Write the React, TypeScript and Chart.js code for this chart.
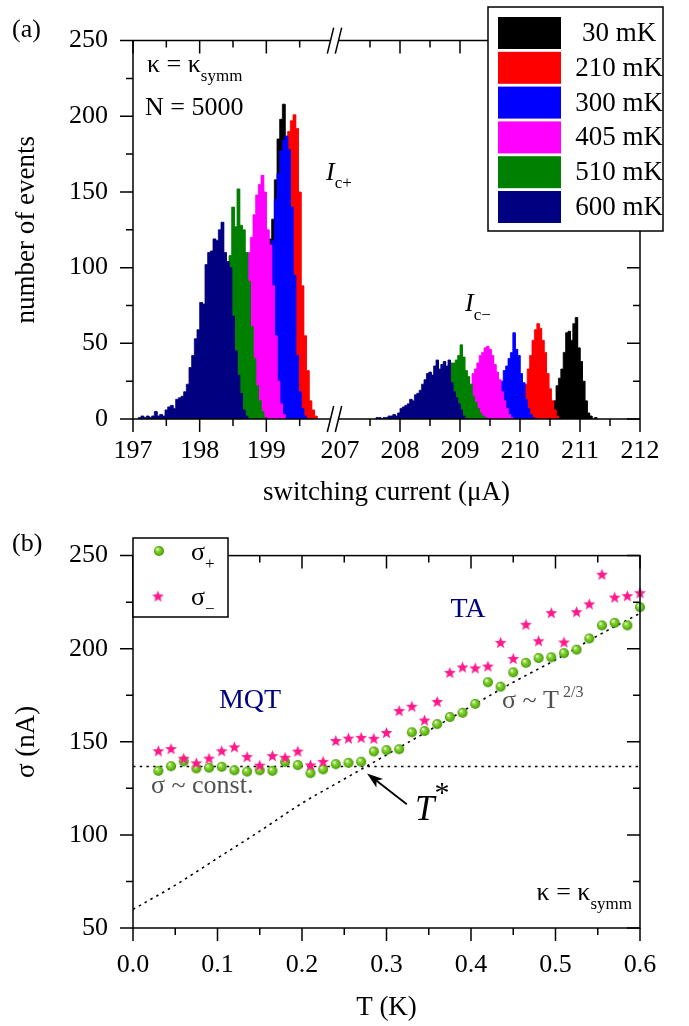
import React, { useEffect, useRef } from 'react';
import { Chart, registerables } from 'chart.js';

Chart.register(...registerables);

const SERIF = '"Liberation Serif", "Times New Roman", Times, serif';
const fnt = (size: number, style = 'normal') => `${style} ${size}px ${SERIF}`;

/* ---------------- (a) switching-current histograms ---------------- */
const tempLabels = ['30 mK', '210 mK', '300 mK', '405 mK', '510 mK', '600 mK'];
const tempColors = ['#000000', '#ff0000', '#0000ff', '#ff00ff', '#008000', '#000080'];
const binWidth = 0.04; // μA

// I_c+ branch: left edge of the first bin (μA) and event counts per bin
const plusStart = [198.88, 199.0, 198.92, 198.48, 198.16, 197.08];
const plus30mK = [5, 20, 45, 80, 119, 132, 158, 185, 198, 208, 180, 140, 90, 45, 15, 3];
const plus210mK = [5, 15, 35, 60, 95, 130, 160, 178, 190, 197, 201, 192, 150, 88, 55, 32, 12, 6, 2];
const plus300mK = [8, 25, 55, 90, 118, 145, 162, 177, 184, 187, 178, 140, 95, 42, 18, 7, 2];
const plus405mK = [15, 30, 50, 70, 88, 100, 110, 120, 135, 148, 155, 161, 150, 125, 115, 88, 55, 25, 10, 3];
const plus510mK = [20, 35, 50, 65, 80, 92, 100, 108, 140, 127, 152, 128, 125, 110, 91, 61, 40, 22, 12, 5, 1];
const plus600mK = [1, 2, 1, 2, 1, 2, 5, 2, 3, 2, 6, 8, 9, 7, 13, 14, 15, 18, 23, 34, 42, 53, 59, 77, 76, 102, 110, 111, 119, 118, 125, 130, 110, 104, 100, 68, 45, 29, 17, 6, 2];

// I_c- branch
const minusStart = [210.52, 209.96, 209.52, 209.08, 208.68, 207.6];
const minus30mK = [4, 12, 22, 27, 33, 44, 57, 58, 52, 63, 67, 47, 38, 25, 12, 4, 2, 0, 1];
const minus210mK = [3, 8, 15, 23, 33, 42, 52, 59, 63, 60, 52, 44, 30, 20, 12, 6, 2];
const minus300mK = [2, 5, 10, 18, 25, 32, 35, 40, 44, 57, 46, 42, 30, 24, 13, 7, 3, 1];
const minus405mK = [5, 10, 20, 30, 33, 37, 42, 44, 47, 48, 46, 42, 36, 31, 26, 18, 12, 7, 3, 1];
const minus510mK = [5, 10, 18, 28, 37, 37, 39, 42, 49, 41, 32, 28, 23, 15, 11, 7, 4, 2, 1];
const minus600mK = [1, 1, 0, 1, 1, 2, 2, 3, 2, 4, 7, 8, 9, 10, 13, 12, 16, 17, 19, 23, 26, 30, 31, 29, 35, 39, 33, 36, 38, 35, 39, 24, 18, 14, 10, 6, 2];

const plusCounts = [plus30mK, plus210mK, plus300mK, plus405mK, plus510mK, plus600mK];
const minusCounts = [minus30mK, minus210mK, minus300mK, minus405mK, minus510mK, minus600mK];

const currentMajor = [197, 198, 199, 207, 208, 209, 210, 211, 212];
const currentMinor = [197.5, 198.5, 199.5, 207.5, 208.5, 209.5, 210.5, 211.5];
const countMajor = [0, 50, 100, 150, 200, 250];
const countMinor = [25, 75, 125, 175, 225];

// broken current axis: 197–200 μA and 207–212 μA share one linear scale
const LOW_SPAN = 200; // axis units for the 3 μA below the break
const GAP = 7; // axis units of the break itself
const HIGH_SPAN = 300; // axis units for the 5 μA above the break
function brokenAxis(i: number): number {
  return i < 203.5 ? ((i - 197) * LOW_SPAN) / 3 : LOW_SPAN + GAP + ((i - 207) * HIGH_SPAN) / 5;
}
const AXIS_MAX = LOW_SPAN + GAP + HIGH_SPAN;

function staircase(start: number, counts: number[]) {
  const pts = [{ x: brokenAxis(start), y: 0 }];
  counts.forEach((c, k) => {
    pts.push({ x: brokenAxis(start + k * binWidth), y: c });
    pts.push({ x: brokenAxis(start + (k + 1) * binWidth), y: c });
  });
  pts.push({ x: brokenAxis(start + counts.length * binWidth), y: 0 });
  return pts;
}

/* ---------------- (b) width of the switching distribution ---------------- */
const tempK = [
  0.03, 0.045, 0.06, 0.075, 0.09, 0.105, 0.12, 0.135, 0.15, 0.165,
  0.18, 0.195, 0.21, 0.225, 0.24, 0.255, 0.27, 0.285, 0.3, 0.315,
  0.33, 0.345, 0.36, 0.375, 0.39, 0.405, 0.42, 0.435, 0.45, 0.465,
  0.48, 0.495, 0.51, 0.525, 0.54, 0.555, 0.57, 0.585, 0.6,
];
const sigmaPlus = [
  134.4, 136.9, 139.5, 135.7, 136.1, 136.6, 134.7, 134.0, 134.7, 134.4,
  139.2, 137.5, 133.2, 135.2, 138.0, 138.7, 139.3, 144.8, 145.5, 146.0,
  155.1, 155.8, 159.5, 163.3, 165.6, 170.4, 182.0, 179.6, 187.3, 192.4,
  195.0, 195.4, 197.6, 199.5, 205.5, 212.5, 213.9, 212.5, 222.3,
];
const sigmaMinus = [
  145.2, 146.4, 141.2, 138.7, 141.2, 145.2, 147.3, 142.1, 137.5, 142.6,
  141.7, 145.0, 137.6, 139.5, 150.7, 152.0, 152.4, 151.9, 155.0, 166.8,
  169.1, 161.7, 171.7, 187.3, 190.2, 189.7, 190.7, 203.4, 194.8, 213.1,
  204.3, 219.4, 203.6, 219.9, 224.1, 240.0, 227.7, 228.5, 230.1,
];
const sigmaConst = 136.7;
const fitT = [0, 0.05, 0.1, 0.15, 0.2, 0.25, 0.3, 0.35, 0.4, 0.45, 0.5, 0.55, 0.6];
const fitSigma = [60, 73, 87.5, 102, 117, 130, 143, 156, 169, 182, 194, 207, 219];

const tMajor = [0, 0.1, 0.2, 0.3, 0.4, 0.5, 0.6];
const tMinor = [0.05, 0.15, 0.25, 0.35, 0.45, 0.55];
const sigmaMajor = [50, 100, 150, 200, 250];
const sigmaMinor = [75, 125, 175, 225];

/* ---------------- drawing helpers ---------------- */
const MAJOR_LEN = 13;
const MINOR_LEN = 7;

function drawTicks(ctx: CanvasRenderingContext2D, chart: any, xMajor: number[], xMinor: number[], yMajor: number[], yMinor: number[]) {
  const { chartArea: a, scales } = chart;
  const x = scales.x;
  const y = scales.y;
  ctx.beginPath();
  const xs: [number[], number][] = [[xMajor, MAJOR_LEN], [xMinor, MINOR_LEN]];
  for (const [vals, len] of xs) {
    for (const v of vals) {
      const px = x.getPixelForValue(v);
      ctx.moveTo(px, a.bottom);
      ctx.lineTo(px, a.bottom + len);
      ctx.moveTo(px, a.top);
      ctx.lineTo(px, a.top + len);
    }
  }
  const ys: [number[], number][] = [[yMajor, MAJOR_LEN], [yMinor, MINOR_LEN]];
  for (const [vals, len] of ys) {
    for (const v of vals) {
      const py = y.getPixelForValue(v);
      ctx.moveTo(a.left - len, py);
      ctx.lineTo(a.left, py);
      ctx.moveTo(a.right - len, py);
      ctx.lineTo(a.right, py);
    }
  }
  ctx.stroke();
}

function rich(ctx: CanvasRenderingContext2D, x: number, y: number, parts: [string, string, number][]) {
  let cx = x;
  for (const [t, font, dy] of parts) {
    ctx.font = font;
    ctx.fillText(t, cx, y + dy);
    cx += ctx.measureText(t).width;
  }
  return cx;
}

function legendBox(ctx: CanvasRenderingContext2D, x: number, y: number, w: number, h: number) {
  ctx.fillStyle = '#fff';
  ctx.fillRect(x, y, w, h);
  ctx.strokeStyle = '#000';
  ctx.lineWidth = 1.5;
  ctx.strokeRect(x, y, w, h);
}

function makeSphere(r: number) {
  const c = document.createElement('canvas');
  const size = Math.ceil(2 * r + 2);
  c.width = size;
  c.height = size;
  const g = c.getContext('2d')!;
  const cx = size / 2;
  const grad = g.createRadialGradient(cx - r * 0.35, cx - r * 0.4, r * 0.08, cx, cx, r);
  grad.addColorStop(0, '#f2ffe4');
  grad.addColorStop(0.3, '#8fd83a');
  grad.addColorStop(0.75, '#5cb612');
  grad.addColorStop(1, '#3f8a05');
  g.fillStyle = grad;
  g.beginPath();
  g.arc(cx, cx, r, 0, Math.PI * 2);
  g.fill();
  return c;
}

function makeStar(rOut: number, rIn: number, color: string) {
  const c = document.createElement('canvas');
  const size = Math.ceil(2 * rOut + 2);
  c.width = size;
  c.height = size;
  const g = c.getContext('2d')!;
  const cx = size / 2;
  const cy = size / 2 + rOut * 0.1;
  g.beginPath();
  for (let k = 0; k < 10; k++) {
    const r = k % 2 === 0 ? rOut : rIn;
    const ang = -Math.PI / 2 + (k * Math.PI) / 5;
    const px = cx + r * Math.cos(ang);
    const py = cy + r * Math.sin(ang);
    if (k === 0) g.moveTo(px, py);
    else g.lineTo(px, py);
  }
  g.closePath();
  g.fillStyle = color;
  g.fill();
  return c;
}

const tickFont = { family: SERIF, size: 26 };
const titleFont = { family: SERIF, size: 27 };

/* ---------------- panel (a) ---------------- */
function configA() {
  const datasets: any[] = [];
  tempLabels.forEach((lab, k) => {
    const order = tempLabels.length - k; // warmer curves are drawn over colder ones
    const branches: [number, number[]][] = [
      [plusStart[k], plusCounts[k]],
      [minusStart[k], minusCounts[k]],
    ];
    for (const [s, c] of branches) {
      datasets.push({
        label: lab,
        data: staircase(s, c),
        borderColor: tempColors[k],
        backgroundColor: tempColors[k],
        borderWidth: 0.8,
        fill: 'origin',
        pointRadius: 0,
        tension: 0,
        order,
      });
    }
  });

  const panelA = {
    id: 'panelA',
    afterDraw(chart: any) {
      const { ctx, chartArea: a, scales } = chart;
      const x = scales.x;
      ctx.save();
      ctx.strokeStyle = '#000';
      ctx.fillStyle = '#000';
      ctx.lineWidth = 1.5;
      ctx.lineCap = 'butt';

      // frame with a break in the current axis
      const breakL = x.getPixelForValue(brokenAxis(200)) - 2.5;
      const breakR = x.getPixelForValue(brokenAxis(207)) - 1.5;
      ctx.beginPath();
      ctx.moveTo(a.left, a.top);
      ctx.lineTo(a.left, a.bottom);
      ctx.moveTo(a.right, a.top);
      ctx.lineTo(a.right, a.bottom);
      for (const yy of [a.top, a.bottom]) {
        ctx.moveTo(a.left, yy);
        ctx.lineTo(breakL, yy);
        ctx.moveTo(breakR, yy);
        ctx.lineTo(a.right, yy);
        for (const bx of [breakL, breakR]) {
          ctx.moveTo(bx - 3.2, yy + 13);
          ctx.lineTo(bx + 3.2, yy - 13);
        }
      }
      ctx.stroke();

      const ticked = currentMajor.filter((v) => v !== 207).map(brokenAxis);
      drawTicks(ctx, chart, ticked, currentMinor.map(brokenAxis), countMajor, countMinor);

      // legend
      legendBox(ctx, 488, 7, 175, 224);
      tempLabels.forEach((lab, k) => {
        const top = 17 + k * 34.8;
        ctx.fillStyle = tempColors[k];
        ctx.fillRect(498, top, 63, 32);
        ctx.fillStyle = '#000';
        ctx.font = fnt(27);
        ctx.textAlign = 'center';
        ctx.textBaseline = 'middle';
        ctx.fillText(lab, 619, top + 17);
      });

      // annotations
      ctx.textAlign = 'left';
      ctx.textBaseline = 'alphabetic';
      ctx.fillStyle = '#000';
      rich(ctx, 12, 37, [['(a)', fnt(26), 0]]);
      rich(ctx, 147, 72, [['κ = κ', fnt(26), 0], ['symm', fnt(17), 9]]);
      rich(ctx, 145, 115, [['N = 5000', fnt(26), 0]]);
      rich(ctx, 326, 180, [['I', fnt(26, 'italic'), 0], ['c+', fnt(17), 8]]);
      rich(ctx, 465, 311, [['I', fnt(26, 'italic'), 0], ['c−', fnt(17), 9]]);
      ctx.restore();
    },
  };

  return {
    type: 'line',
    data: { datasets },
    options: {
      animation: false,
      responsive: false,
      events: [],
      layout: { padding: { top: 29, right: 49, bottom: 0, left: 0 } },
      plugins: { legend: { display: false }, tooltip: { enabled: false } },
      scales: {
        x: {
          type: 'linear',
          min: 0,
          max: AXIS_MAX,
          afterBuildTicks: (s: any) => {
            s.ticks = currentMajor.map((v) => ({ value: brokenAxis(v) }));
          },
          afterFit: (s: any) => {
            s.height = 96;
          },
          grid: { display: false, drawTicks: false },
          border: { display: false },
          ticks: {
            autoSkip: false,
            maxRotation: 0,
            padding: 17,
            color: '#000',
            font: tickFont,
            callback: (_v: any, i: number) => String(currentMajor[i]),
          },
          title: {
            display: true,
            text: 'switching current (μA)',
            color: '#000',
            font: titleFont,
            padding: { top: 0, bottom: 6 },
          },
        },
        y: {
          type: 'linear',
          min: 0,
          max: 250,
          afterFit: (s: any) => {
            s.width = 133;
          },
          grid: { display: false, drawTicks: false },
          border: { display: false },
          ticks: { stepSize: 50, padding: 25, color: '#000', font: tickFont },
          title: {
            display: true,
            text: 'number of events',
            color: '#000',
            font: titleFont,
            padding: { top: 11, bottom: 0 },
          },
        },
      },
    },
    plugins: [panelA],
  };
}

/* ---------------- panel (b) ---------------- */
function configB() {
  const sphere = makeSphere(5);
  const star = makeStar(6.2, 2.7, '#ff1a8c');

  const datasets: any[] = [
    {
      label: 'σ-',
      data: tempK.map((t, i) => ({ x: t, y: sigmaMinus[i] })),
      showLine: false,
      pointStyle: star,
      pointRadius: 5,
      clip: false,
      order: 0,
    },
    {
      label: 'σ+',
      data: tempK.map((t, i) => ({ x: t, y: sigmaPlus[i] })),
      showLine: false,
      pointStyle: sphere,
      pointRadius: 5,
      clip: false,
      order: 1,
    },
    {
      label: 'const',
      data: [
        { x: 0, y: sigmaConst },
        { x: 0.6, y: sigmaConst },
      ],
      borderColor: '#000',
      borderWidth: 1.6,
      borderDash: [2.5, 4.2],
      pointRadius: 0,
      fill: false,
      order: 2,
    },
    {
      label: 'fit',
      data: fitT.map((t, i) => ({ x: t, y: fitSigma[i] })),
      borderColor: '#000',
      borderWidth: 1.6,
      borderDash: [2.5, 4.2],
      pointRadius: 0,
      fill: false,
      cubicInterpolationMode: 'monotone',
      order: 3,
    },
  ];

  const panelB = {
    id: 'panelB',
    afterDraw(chart: any) {
      const { ctx, chartArea: a, scales } = chart;
      const x = scales.x;
      const y = scales.y;
      ctx.save();
      ctx.strokeStyle = '#000';
      ctx.fillStyle = '#000';
      ctx.lineWidth = 1.5;
      ctx.strokeRect(a.left, a.top, a.right - a.left, a.bottom - a.top);
      drawTicks(ctx, chart, tMajor, tMinor, sigmaMajor, sigmaMinor);

      // legend
      legendBox(ctx, 133, 23, 95, 79);
      ctx.drawImage(sphere, 159 - sphere.width / 2, 36 - sphere.height / 2);
      ctx.drawImage(star, 158 - star.width / 2, 81 - star.height / 2);
      ctx.textAlign = 'left';
      ctx.textBaseline = 'alphabetic';
      ctx.fillStyle = '#000';
      rich(ctx, 191, 45, [['σ', fnt(26), 0], ['+', fnt(17), 9]]);
      rich(ctx, 191, 90, [['σ', fnt(26), 0], ['−', fnt(17), 9]]);

      rich(ctx, 12, 36, [['(b)', fnt(26), 0]]);

      // regime labels
      ctx.fillStyle = '#000080';
      ctx.font = fnt(28);
      ctx.textAlign = 'center';
      ctx.fillText('MQT', 250, 193);
      ctx.fillText('TA', 468, 102);
      ctx.textAlign = 'left';
      ctx.fillStyle = '#505050';
      rich(ctx, 151, 278, [['σ ~ const.', fnt(26), 0]]);
      rich(ctx, 502, 193, [['σ ~ T', fnt(26), 0], [' 2/3', fnt(16), -11]]);

      // crossover temperature
      ctx.fillStyle = '#000';
      rich(ctx, 415, 305, [['T', fnt(35, 'italic'), 0], ['*', fnt(30), -18]]);
      const tipX = x.getPixelForValue(0.277);
      const tipY = y.getPixelForValue(133);
      const tailX = x.getPixelForValue(0.324);
      const tailY = y.getPixelForValue(116.5);
      const ang = Math.atan2(tipY - tailY, tipX - tailX);
      const headLen = 16;
      const headW = 5.5;
      const bx = tipX - headLen * Math.cos(ang);
      const by = tipY - headLen * Math.sin(ang);
      ctx.lineWidth = 1.8;
      ctx.beginPath();
      ctx.moveTo(tailX, tailY);
      ctx.lineTo(bx + 4 * Math.cos(ang), by + 4 * Math.sin(ang));
      ctx.stroke();
      ctx.beginPath();
      ctx.moveTo(tipX, tipY);
      ctx.lineTo(bx - headW * Math.sin(ang), by + headW * Math.cos(ang));
      ctx.lineTo(bx + 4 * Math.cos(ang), by + 4 * Math.sin(ang));
      ctx.lineTo(bx + headW * Math.sin(ang), by - headW * Math.cos(ang));
      ctx.closePath();
      ctx.fill();

      // coupling label, right-aligned near the frame
      ctx.font = fnt(26);
      const w1 = ctx.measureText('κ = κ').width;
      ctx.font = fnt(17);
      const w2 = ctx.measureText('symm').width;
      rich(ctx, 632 - w1 - w2, 385, [['κ = κ', fnt(26), 0], ['symm', fnt(17), 9]]);
      ctx.restore();
    },
  };

  return {
    type: 'line',
    data: { datasets },
    options: {
      animation: false,
      responsive: false,
      events: [],
      layout: { padding: { top: 23, right: 49, bottom: 0, left: 0 } },
      plugins: { legend: { display: false }, tooltip: { enabled: false } },
      scales: {
        x: {
          type: 'linear',
          min: 0,
          max: 0.6,
          afterFit: (s: any) => {
            s.height = 98;
          },
          grid: { display: false, drawTicks: false },
          border: { display: false },
          ticks: {
            stepSize: 0.1,
            autoSkip: false,
            maxRotation: 0,
            padding: 22,
            color: '#000',
            font: tickFont,
            callback: (v: any) => Number(v).toFixed(1),
          },
          title: {
            display: true,
            text: 'T (K)',
            color: '#000',
            font: titleFont,
            padding: { top: 0, bottom: 2 },
          },
        },
        y: {
          type: 'linear',
          min: 50,
          max: 250,
          afterFit: (s: any) => {
            s.width = 133;
          },
          grid: { display: false, drawTicks: false },
          border: { display: false },
          ticks: { stepSize: 50, padding: 25, color: '#000', font: tickFont },
          title: {
            display: true,
            text: 'σ (nA)',
            color: '#000',
            font: titleFont,
            padding: { top: 11, bottom: 0 },
          },
        },
      },
    },
    plugins: [panelB],
  };
}

export default function App() {
  const refA = useRef<HTMLCanvasElement>(null);
  const refB = useRef<HTMLCanvasElement>(null);

  useEffect(() => {
    document.body.style.margin = '0';
    const chartA = new Chart(refA.current as HTMLCanvasElement, configA() as any);
    const chartB = new Chart(refB.current as HTMLCanvasElement, configB() as any);
    return () => {
      chartA.destroy();
      chartB.destroy();
    };
  }, []);

  return (
    <div style={{ position: 'relative', width: 689, height: 1026, background: '#fff' }}>
      <canvas
        ref={refA}
        width={689}
        height={515}
        style={{ position: 'absolute', left: 0, top: 0, width: 689, height: 515 }}
      />
      <canvas
        ref={refB}
        width={689}
        height={511}
        style={{ position: 'absolute', left: 0, top: 515, width: 689, height: 511 }}
      />
    </div>
  );
}
